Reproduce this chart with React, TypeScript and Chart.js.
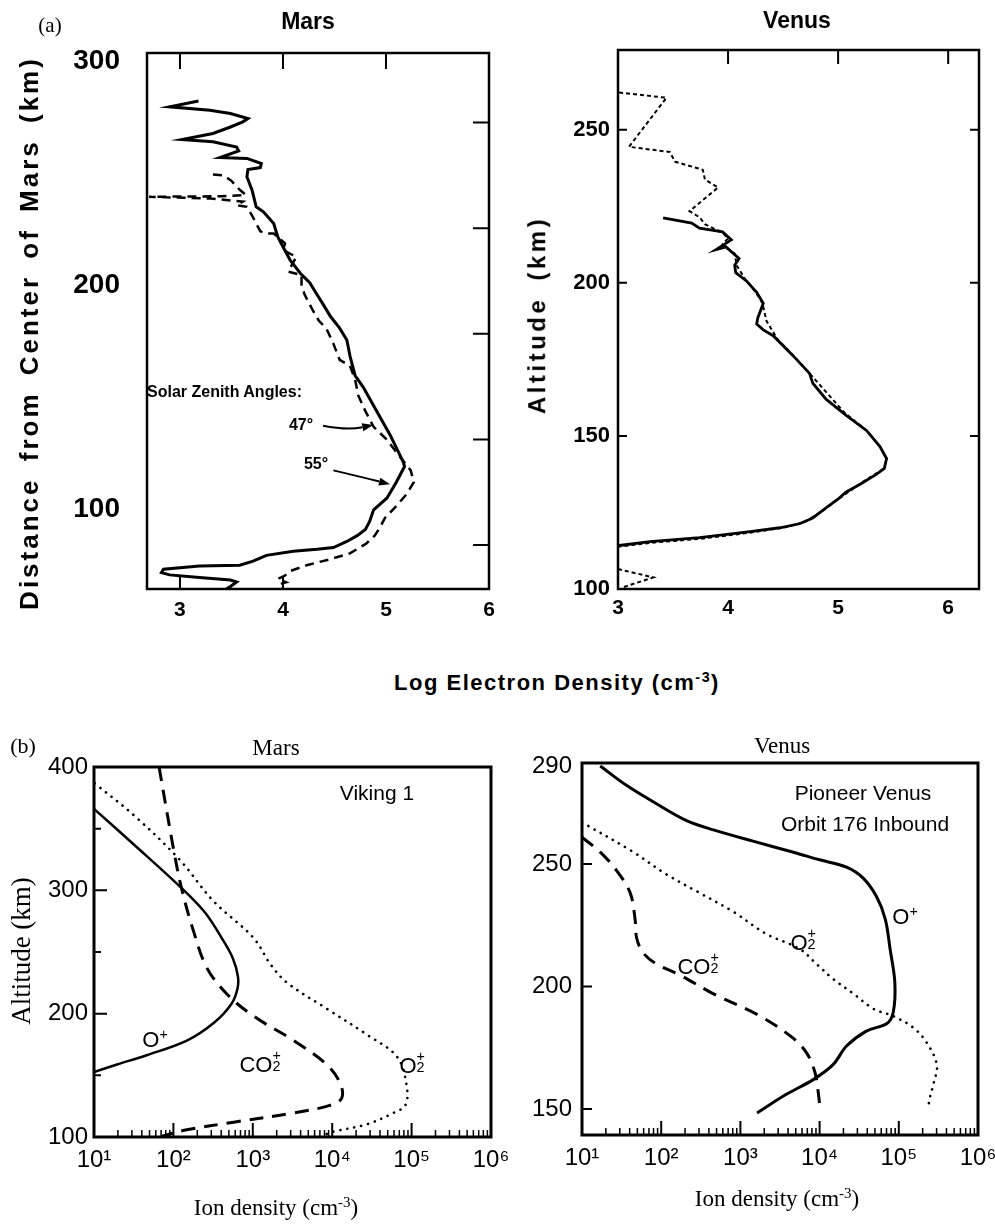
import React, { useEffect, useRef } from 'react';
import { Chart, registerables } from 'chart.js';
Chart.register(...registerables);

const SANS = '"Liberation Sans", Arial, Helvetica, sans-serif';
const SERIF = '"Liberation Serif", "Times New Roman", Times, serif';

// ---------- (a) Mars electron density (log Ne vs distance label) ----------
const marsSolidLogNe = [3.18, 2.90, 3.29, 3.49, 3.66, 3.61, 3.49, 3.32, 3.02, 3.32, 3.55, 3.57, 3.39, 3.65, 3.79, 3.78, 3.66, 3.65, 3.70, 3.74, 3.81, 3.91, 3.95, 4.00, 4.07, 4.17, 4.26, 4.33, 4.39, 4.46, 4.55, 4.62, 4.65, 4.70, 4.78, 4.91, 5.04, 5.17, 5.18, 5.10, 5.01, 4.88, 4.84, 4.80, 4.72, 4.62, 4.49, 4.33, 4.10, 3.84, 3.71, 3.58, 3.19, 2.84, 2.82, 2.90, 3.16, 3.49, 3.55, 3.49, 3.45];
const marsSolidDist = [282.1, 279.5, 278.0, 276.5, 274.3, 272.8, 270.5, 267.6, 264.9, 263.9, 261.6, 259.8, 256.9, 256.5, 254.2, 252.4, 251.5, 248.3, 242.3, 234.9, 232.7, 227.5, 221.5, 217.1, 211.1, 205.2, 201.1, 195.8, 191.4, 186.1, 180.8, 175.5, 168.5, 159.7, 154.4, 143.8, 133.2, 120.9, 119.1, 112.1, 105.1, 99.8, 94.5, 91.0, 88.3, 85.7, 83.0, 82.2, 81.3, 79.5, 76.9, 75.1, 74.8, 73.3, 71.8, 70.8, 69.7, 68.5, 67.6, 65.6, 64.5];
const marsDashLogNe = [3.32, 3.42, 3.50, 3.58, 3.64, 3.40, 2.70, 3.30, 3.61, 3.55, 3.65, 3.70, 3.78, 3.84, 3.91, 4.02, 4.00, 4.13, 4.05, 4.18, 4.18, 4.21, 4.29, 4.35, 4.42, 4.49, 4.55, 4.65, 4.70, 4.73, 4.80, 4.88, 5.00, 5.12, 5.24, 5.27, 5.20, 5.10, 4.99, 4.94, 4.89, 4.81, 4.65, 4.46, 4.23, 4.07, 4.02, 3.95, 4.03, 3.96, 4.00];
const marsDashDist = [249.3, 249.0, 246.5, 242.5, 240.2, 239.6, 239.4, 238.6, 237.2, 235.6, 234.9, 231.0, 224.0, 223.0, 223.0, 218.6, 215.6, 212.6, 206.0, 204.5, 200.2, 195.8, 188.7, 184.0, 180.8, 173.8, 166.7, 164.0, 157.9, 150.9, 143.8, 136.8, 131.5, 124.4, 117.4, 112.1, 106.8, 101.5, 96.2, 91.8, 88.3, 84.8, 80.4, 77.8, 75.1, 72.5, 70.5, 69.0, 67.5, 66.5, 65.0];

// ---------- (a) Venus electron density ----------
const venusSolidLogNe = [3.41, 3.67, 3.74, 3.95, 4.03, 3.89, 3.98, 4.10, 4.06, 4.07, 4.17, 4.26, 4.32, 4.27, 4.26, 4.32, 4.41, 4.59, 4.74, 4.77, 4.89, 5.07, 5.26, 5.38, 5.44, 5.42, 5.35, 5.20, 5.07, 5.01, 4.89, 4.77, 4.65, 4.47, 4.20, 3.74, 3.29, 3.01];
const venusSolidAlt = [221.2, 219.5, 217.8, 216.6, 214.0, 210.8, 211.7, 207.9, 205.7, 203.3, 200.5, 196.9, 193.3, 188.5, 186.5, 184.6, 182.7, 176.2, 170.4, 167.2, 162.0, 156.8, 151.7, 146.5, 142.6, 139.4, 137.5, 134.2, 131.6, 129.7, 126.5, 123.2, 121.3, 120.0, 118.7, 116.8, 115.5, 114.2];
const venusDotLogNe = [3.01, 3.44, 3.10, 3.47, 3.52, 3.77, 3.79, 3.91, 3.65, 3.74, 3.79, 3.95, 4.00, 3.95, 4.06, 4.08, 4.16, 4.25, 4.31, 4.35, 4.45, 4.60, 4.74, 5.06, 5.26, 5.38, 5.44, 5.42, 5.20, 5.00, 4.85, 4.70, 4.50, 4.20, 3.75, 3.30, 3.00];
const venusDotAlt = [262.1, 260.4, 244.4, 242.7, 239.5, 236.9, 233.7, 231.1, 223.4, 221.4, 219.1, 216.3, 214.5, 212.5, 209.5, 205.5, 201.0, 197.0, 193.5, 187.5, 181.5, 176.0, 170.4, 157.5, 151.7, 146.5, 142.6, 139.4, 134.4, 129.3, 125.3, 122.0, 120.0, 118.4, 116.4, 115.1, 113.8];
const venusDotLowLogNe = [3.00, 3.32, 3.05];
const venusDotLowAlt = [106.5, 103.8, 100.6];

// ---------- (b) Mars ion densities (Viking 1) ----------
const marsOpDensity = [10, 32, 126, 250, 400, 560, 650, 640, 540, 330, 150, 46, 19.5, 10];
const marsOpAlt = [366, 337, 302, 282, 262, 245, 230, 220, 208, 193, 178.4, 166.3, 158.8, 152.7];
const marsCO2Density = [66, 100, 126, 178, 263, 468, 1023, 3236, 8511, 12590, 13180, 9330, 3236, 575, 148, 70];
const marsCO2Alt = [400, 334, 302.2, 267.5, 237.3, 216.1, 198, 178.4, 158.8, 143.7, 131.6, 125.6, 119.5, 112, 105.9, 100.5];
const marsO2Density = [10.2, 31.6, 120, 316, 1023, 1660, 2690, 8510, 27540, 66070, 87100, 83180, 58880, 27540, 10470, 7760];
const marsO2Alt = [386.7, 361, 324.8, 291.6, 261.4, 240.3, 225.2, 204.1, 182.9, 164.8, 140.6, 125.6, 119.5, 110.4, 104.4, 101.4];

// ---------- (b) Venus ion densities (Pioneer Venus orbit 176) ----------
const venusOpDensity = [17, 36, 87, 209, 457, 1445, 4677, 10000, 21880, 35480, 52480, 67610, 77620, 89130, 85110, 70790, 38900, 21880, 14790, 8318, 3802, 1622];
const venusOpAlt = [290, 282.2, 274.6, 267.7, 263.9, 259.3, 254.8, 251.7, 248.7, 244.2, 236.6, 227.4, 215.3, 201.6, 189.5, 184.9, 181.8, 175.7, 168.1, 162.0, 156.0, 148.4];
const venusO2Density = [10, 44.7, 117, 309, 813, 2138, 5623, 9120, 14790, 26920, 47860, 85110, 151400, 223900, 302000, 275400, 245500, 234400];
const venusO2Alt = [267, 254.8, 245.7, 238.1, 230.5, 221.4, 215.3, 209.2, 203.1, 197.0, 190.9, 187.9, 183.3, 177.2, 168.1, 160.5, 154.4, 149.9];
const venusCO2Density = [10, 17, 27.5, 40.7, 46.8, 49, 58.9, 87, 174, 457, 1778, 4677, 6918, 8710, 9550, 10230];
const venusCO2Alt = [260.9, 254.8, 247.2, 238.1, 227.4, 219.8, 213.8, 209.2, 204.6, 197.0, 187.9, 178.8, 172.7, 165.1, 157.5, 149.1];

// ---------- ticks ----------
const logNeTicks = [3, 4, 5, 6];
const marsDistTicks = [100, 200, 300];
const marsRightTicks = [100, 150, 200, 250, 300];
const venusAltTicks = [100, 150, 200, 250];
const ionDecades = [10, 100, 1000, 10000, 100000, 1000000];
const ionDecadeLabels = ['10\u00b9', '10\u00b2', '10\u00b3', '10\u2074', '10\u2075', '10\u2076'];
const marsIonAltTicks = [100, 200, 300, 400];
const venusIonAltTicks = [150, 200, 250, 290];
const ionMinor = [1, 2, 3, 4, 5].flatMap((k) => [2, 3, 4, 5, 6, 7, 8, 9].map((m) => m * Math.pow(10, k)));

// annotation arrows in data coordinates (Mars panel): [x0,y0,cx,cy,x1,y1]
const marsArrows = [
  [4.389, 137.3, 4.62, 135.2, 4.877, 137.6],
  [4.489, 117.4, 4.767, 114.4, 5.039, 111.2],
];

type Mark = { scale: string; side: 'top' | 'bottom' | 'left' | 'right'; values: number[]; len: number; width?: number };

function framePlugin(border: number, marks: Mark[], arrows?: number[][]) {
  return {
    id: 'frameTicks',
    afterDraw(chart: any) {
      const { ctx, chartArea: a } = chart;
      ctx.save();
      ctx.strokeStyle = '#000';
      ctx.fillStyle = '#000';
      ctx.lineWidth = border;
      ctx.strokeRect(a.left, a.top, a.right - a.left, a.bottom - a.top);
      for (const m of marks) {
        const s = chart.scales[m.scale];
        ctx.lineWidth = m.width ?? 2;
        ctx.beginPath();
        for (const v of m.values) {
          const p = s.getPixelForValue(v);
          if (m.side === 'top') { ctx.moveTo(p, a.top); ctx.lineTo(p, a.top + m.len); }
          else if (m.side === 'bottom') { ctx.moveTo(p, a.bottom); ctx.lineTo(p, a.bottom - m.len); }
          else if (m.side === 'left') { ctx.moveTo(a.left, p); ctx.lineTo(a.left + m.len, p); }
          else { ctx.moveTo(a.right, p); ctx.lineTo(a.right - m.len, p); }
        }
        ctx.stroke();
      }
      if (arrows) {
        const xs = chart.scales.x, ys = chart.scales.y;
        for (const [x0, y0, cx, cy, x1, y1] of arrows) {
          const px0 = xs.getPixelForValue(x0), py0 = ys.getPixelForValue(y0);
          const pcx = xs.getPixelForValue(cx), pcy = ys.getPixelForValue(cy);
          const px1 = xs.getPixelForValue(x1), py1 = ys.getPixelForValue(y1);
          const ang = Math.atan2(py1 - pcy, px1 - pcx);
          const hl = 11, hw = 4;
          const bx = px1 - hl * Math.cos(ang), by = py1 - hl * Math.sin(ang);
          ctx.lineWidth = 2;
          ctx.beginPath();
          ctx.moveTo(px0, py0);
          ctx.quadraticCurveTo(pcx, pcy, bx, by);
          ctx.stroke();
          ctx.beginPath();
          ctx.moveTo(px1, py1);
          ctx.lineTo(bx + hw * Math.sin(ang), by - hw * Math.cos(ang));
          ctx.lineTo(bx - hw * Math.sin(ang), by + hw * Math.cos(ang));
          ctx.closePath();
          ctx.fill();
        }
      }
      ctx.restore();
    },
  };
}

const pts = (xs: number[], ys: number[]) => xs.map((x, i) => ({ x, y: ys[i] }));
const ds = (xs: number[], ys: number[], extra: any) => ({
  data: pts(xs, ys), showLine: true, pointRadius: 0, pointHoverRadius: 0,
  borderColor: '#000', backgroundColor: '#000', fill: false, tension: 0, ...extra,
});

const setTicks = (vals: number[]) => (s: any) => { s.ticks = vals.map((v) => ({ value: v })); };
const noGrid = { display: false, drawTicks: false };
const noBorder = { display: false };

const baseOpts = (padTop: number, padRight: number) => ({
  responsive: false,
  animation: false,
  devicePixelRatio: 1,
  events: [],
  layout: { padding: { top: padTop, right: padRight, left: 0, bottom: 0 } },
  plugins: { legend: { display: false }, tooltip: { enabled: false }, title: { display: false } },
});

function marsTopConfig(): any {
  return {
    type: 'scatter',
    data: {
      datasets: [
        ds(marsSolidLogNe, marsSolidDist, { borderWidth: 3 }),
        ds(marsDashLogNe, marsDashDist, { borderWidth: 2.5, borderDash: [9, 6] }),
      ],
    },
    options: {
      ...baseOpts(53, 21),
      scales: {
        x: {
          type: 'linear', min: 2.68, max: 6, afterBuildTicks: setTicks(logNeTicks), afterFit: (s: any) => { s.height = 51; },
          grid: noGrid, border: noBorder,
          ticks: { font: { family: SANS, size: 21, weight: 'bold' }, color: '#000', padding: 9, maxRotation: 0, autoSkip: false },
        },
        y: {
          type: 'linear', min: 64.5, max: 303.5, afterBuildTicks: setTicks(marsDistTicks), afterFit: (s: any) => { s.width = 147; },
          grid: noGrid, border: noBorder,
          ticks: { font: { family: SANS, size: 28, weight: 'bold' }, color: '#000', padding: 27, autoSkip: false },
        },
        y2: { type: 'linear', position: 'right', display: false, min: 79.2, max: 332.9 },
      },
    },
    plugins: [framePlugin(2.5, [
      { scale: 'x', side: 'top', values: [3, 4, 5], len: 16 },
      { scale: 'x', side: 'bottom', values: [3, 4], len: 12 },
      { scale: 'y2', side: 'right', values: marsRightTicks, len: 16 },
    ], marsArrows)],
  };
}

function venusTopConfig(): any {
  return {
    type: 'scatter',
    data: {
      datasets: [
        ds(venusSolidLogNe, venusSolidAlt, { borderWidth: 2.8 }),
        ds(venusDotLogNe, venusDotAlt, { borderWidth: 2, borderDash: [4, 3] }),
        ds(venusDotLowLogNe, venusDotLowAlt, { borderWidth: 2, borderDash: [4, 3] }),
      ],
    },
    options: {
      ...baseOpts(50, 16),
      scales: {
        x: {
          type: 'linear', min: 3, max: 6.28, afterBuildTicks: setTicks(logNeTicks), afterFit: (s: any) => { s.height = 51; },
          grid: noGrid, border: noBorder,
          ticks: { font: { family: SANS, size: 21, weight: 'bold' }, color: '#000', padding: 7, maxRotation: 0, autoSkip: false },
        },
        y: {
          type: 'linear', min: 100, max: 276, afterBuildTicks: setTicks(venusAltTicks), afterFit: (s: any) => { s.width = 118; },
          grid: noGrid, border: noBorder,
          ticks: { font: { family: SANS, size: 22, weight: 'bold' }, color: '#000', padding: 8, autoSkip: false },
        },
      },
    },
    plugins: [framePlugin(2.5, [
      { scale: 'x', side: 'top', values: [4, 5, 6], len: 14 },
      { scale: 'y', side: 'left', values: [150, 200, 250], len: 9 },
      { scale: 'y', side: 'right', values: [150, 200, 250], len: 9 },
    ])],
  };
}

const ionX = (h: number) => ({
  type: 'logarithmic', min: 10, max: 1000000, afterBuildTicks: setTicks(ionDecades), afterFit: (s: any) => { s.height = h; },
  grid: noGrid, border: noBorder,
  ticks: {
    font: { family: SANS, size: 24 }, color: '#000', padding: 9, maxRotation: 0, autoSkip: false,
    callback: (v: any) => { const i = ionDecades.indexOf(Number(v)); return i >= 0 ? ionDecadeLabels[i] : ''; },
  },
});

function marsIonConfig(): any {
  return {
    type: 'scatter',
    data: {
      datasets: [
        ds(marsOpDensity, marsOpAlt, { borderWidth: 2.5, tension: 0.35 }),
        ds(marsCO2Density, marsCO2Alt, { borderWidth: 3, borderDash: [14, 9], tension: 0.35 }),
        ds(marsO2Density, marsO2Alt, { borderWidth: 2.6, borderDash: [0.1, 7], borderCapStyle: 'round', tension: 0.35 }),
      ],
    },
    options: {
      ...baseOpts(67, 39),
      scales: {
        x: ionX(87),
        y: {
          type: 'linear', min: 100, max: 400, afterBuildTicks: setTicks(marsIonAltTicks), afterFit: (s: any) => { s.width = 94; },
          grid: noGrid, border: noBorder,
          ticks: { font: { family: SANS, size: 24 }, color: '#000', padding: 6, autoSkip: false },
        },
      },
    },
    plugins: [framePlugin(3, [
      { scale: 'x', side: 'bottom', values: ionDecades, len: 14 },
      { scale: 'x', side: 'bottom', values: ionMinor, len: 7, width: 1.5 },
      { scale: 'y', side: 'left', values: [200, 300], len: 13 },
      { scale: 'y', side: 'left', values: [150, 250, 350], len: 7 },
    ])],
  };
}

function venusIonConfig(): any {
  return {
    type: 'scatter',
    data: {
      datasets: [
        ds(venusOpDensity, venusOpAlt, { borderWidth: 3, tension: 0.35 }),
        ds(venusO2Density, venusO2Alt, { borderWidth: 2.6, borderDash: [0.1, 7], borderCapStyle: 'round', tension: 0.35 }),
        ds(venusCO2Density, venusCO2Alt, { borderWidth: 3, borderDash: [14, 9], tension: 0.35 }),
      ],
    },
    options: {
      ...baseOpts(63, 42),
      scales: {
        x: ionX(89),
        y: {
          type: 'linear', min: 139.4, max: 291.2, afterBuildTicks: setTicks(venusIonAltTicks), afterFit: (s: any) => { s.width = 85; },
          grid: noGrid, border: noBorder,
          ticks: { font: { family: SANS, size: 24 }, color: '#000', padding: 10, autoSkip: false },
        },
      },
    },
    plugins: [framePlugin(3, [
      { scale: 'x', side: 'bottom', values: ionDecades, len: 14 },
      { scale: 'x', side: 'bottom', values: ionMinor, len: 7, width: 1.5 },
      { scale: 'y', side: 'left', values: [150, 200, 250], len: 10 },
    ])],
  };
}

function ChartBox({ left, top, width, height, make }: { left: number; top: number; width: number; height: number; make: () => any }) {
  const ref = useRef<HTMLCanvasElement | null>(null);
  useEffect(() => {
    if (!ref.current) return;
    const chart = new Chart(ref.current, make());
    return () => chart.destroy();
  }, []);
  return (
    <canvas ref={ref} width={width} height={height}
      style={{ position: 'absolute', left, top, width, height }} />
  );
}

function T({ x, y, size, family = SANS, weight = 'normal', rotate = 0, ls = 0, ws = 0, left = false, children }: any) {
  return (
    <div style={{
      position: 'absolute', left: x, top: y,
      transform: `translate(${left ? '0' : '-50%'}, -50%) rotate(${rotate}deg)`,
      fontFamily: family, fontSize: size, fontWeight: weight, letterSpacing: ls, wordSpacing: ws,
      whiteSpace: 'nowrap', lineHeight: 1.15, color: '#000',
    }}>{children}</div>
  );
}

const Sup = ({ children }: any) => (
  <span style={{ fontSize: '0.65em', position: 'relative', top: '-0.55em' }}>{children}</span>
);

const SubSup = ({ sub, sup }: any) => (
  <span style={{ display: 'inline-block', position: 'relative', width: '0.55em', height: '1em' }}>
    <span style={{ position: 'absolute', left: 0, top: '-0.15em', fontSize: '0.65em', lineHeight: 1 }}>{sup}</span>
    <span style={{ position: 'absolute', left: 0, top: '0.6em', fontSize: '0.65em', lineHeight: 1 }}>{sub}</span>
  </span>
);

export default function App() {
  return (
    <div style={{ position: 'absolute', left: 0, top: 0, width: 995, height: 1224, background: '#fff', overflow: 'hidden' }}>
      <ChartBox left={0} top={0} width={510} height={640} make={marsTopConfig} />
      <ChartBox left={500} top={0} width={495} height={640} make={venusTopConfig} />
      <ChartBox left={0} top={700} width={530} height={524} make={marsIonConfig} />
      <ChartBox left={497} top={700} width={523} height={524} make={venusIonConfig} />

      {/* panel (a) texts */}
      <T x={50} y={25} size={21} family={SERIF}>(a)</T>
      <T x={308} y={21} size={23} weight="bold">Mars</T>
      <T x={797} y={20} size={23} weight="bold">Venus</T>
      <T x={30} y={333} size={26} weight="bold" rotate={-90} ls={3} ws={6}>Distance from Center of Mars (km)</T>
      <T x={537} y={315} size={24} weight="bold" rotate={-90} ls={3.5} ws={6}>Altitude (km)</T>
      <T x={147} y={392} size={16} weight="bold" left>Solar Zenith Angles:</T>
      <T x={301} y={425} size={16} weight="bold">47°</T>
      <T x={316} y={464} size={16} weight="bold">55°</T>
      <T x={557} y={683} size={22} weight="bold" ls={1.5}>Log Electron Density (cm<Sup>-3</Sup>)</T>

      {/* panel (b) texts */}
      <T x={23} y={746} size={22} family={SERIF}>(b)</T>
      <T x={276} y={748} size={23} family={SERIF}>Mars</T>
      <T x={782} y={746} size={23} family={SERIF}>Venus</T>
      <T x={22} y={951} size={27} family={SERIF} rotate={-90}>Altitude (km)</T>
      <T x={377} y={793} size={21}>Viking 1</T>
      <T x={155} y={1040} size={22}>O<Sup>+</Sup></T>
      <T x={262} y={1064} size={22}>CO<SubSup sub="2" sup="+" /></T>
      <T x={414} y={1065} size={22}>O<SubSup sub="2" sup="+" /></T>
      <T x={276} y={1208} size={23} family={SERIF}>Ion density (cm<Sup>-3</Sup>)</T>

      <T x={863} y={793} size={21}>Pioneer Venus</T>
      <T x={865} y={824} size={21}>Orbit 176 Inbound</T>
      <T x={905} y={917} size={22}>O<Sup>+</Sup></T>
      <T x={805} y={942} size={22}>O<SubSup sub="2" sup="+" /></T>
      <T x={700} y={966} size={22}>CO<SubSup sub="2" sup="+" /></T>
      <T x={777} y={1199} size={23} family={SERIF}>Ion density (cm<Sup>-3</Sup>)</T>
    </div>
  );
}
